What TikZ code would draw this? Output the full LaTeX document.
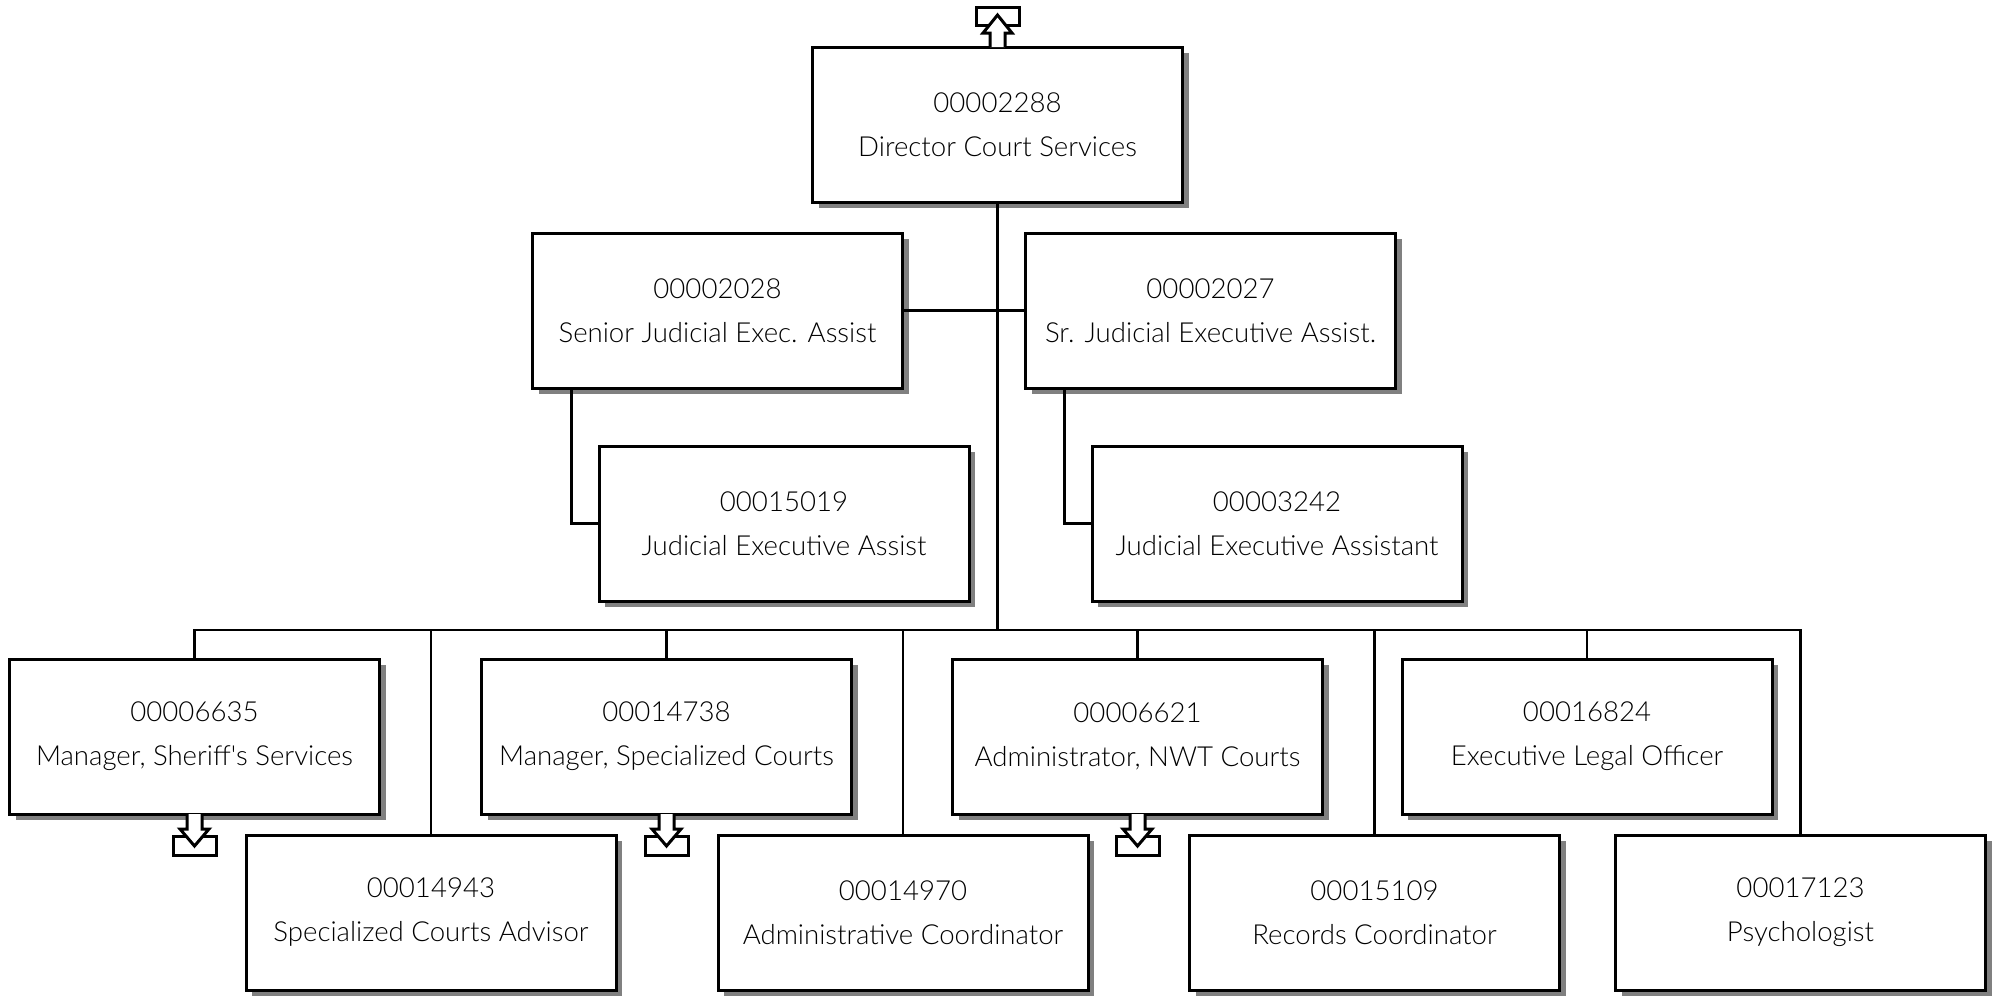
\documentclass[tikz,border=0pt]{standalone}
\usepackage{fontspec}
\setmainfont{Lato Light}
\usetikzlibrary{shadows}
\definecolor{shadowgray}{RGB}{128,128,128}
\begin{document}
\begin{tikzpicture}[x=0.5pt,y=-0.5pt,
  posbox/.style={draw, line width=1.5pt, fill=white, minimum width=185pt, minimum height=77.5pt,
    inner sep=0pt, outer sep=0pt, align=center, font=\fontsize{13.8}{22}\selectfont,
    general shadow={fill=shadowgray, shadow xshift=3.2pt, shadow yshift=-3.2pt}},
  link/.style={line width=1.1pt},
  flag/.style={draw, line width=1.5pt, fill=white, line join=miter}]
\useasboundingbox (0,0) rectangle (1995,996);
% nodes
\node[posbox] (p2288) at (997.5,124.5) {00002288\\Director Court Services};
\node[posbox] (p2028) at (717.5,310.5) {00002028\\Senior Judicial Exec. Assist};
\node[posbox] (p2027) at (1210.5,310.5) {00002027\\Sr. Judicial Executive Assist.};
\node[posbox] (p15019) at (784,523.5) {00015019\\Judicial Executive Assist};
\node[posbox] (p3242) at (1277,523.5) {00003242\\Judicial Executive Assistant};
\node[posbox] (p6635) at (194.5,736.5) {00006635\\Manager, Sheriff\textquotesingle s Services};
\node[posbox] (p14738) at (666.5,736.5) {00014738\\Manager, Specialized Courts};
\node[posbox] (p6621) at (1137.5,736.5) {00006621\\Administrator, NWT Courts};
\node[posbox] (p16824) at (1587,736.5) {00016824\\Executive Legal Officer};
\node[posbox] (p14943) at (431,912.5) {00014943\\Specialized Courts Advisor};
\node[posbox] (p14970) at (903,912.5) {00014970\\Administrative Coordinator};
\node[posbox] (p15109) at (1374.5,912.5) {00015109\\Records Coordinator};
\node[posbox] (p17123) at (1800.5,912.5) {00017123\\Psychologist};
% connectors
\coordinate (bus) at (997.5,630);
\draw[link] (p2288.south) -- (bus);
\draw[link] (p2028.east) -- (p2027.west);
\draw[link] ([xshift=19.5pt]p2028.south west) |- (p15019.west);
\draw[link] ([xshift=19.5pt]p2027.south west) |- (p3242.west);
\foreach \n in {p6635,p14738,p6621,p16824,p14943,p14970,p15109,p17123}
  \draw[link] (\n.north) |- (bus);
% up flag
\draw[flag] ([shift={(-21.5,-40)}]p2288.north) rectangle ([shift={(21.5,-22)}]p2288.north);
\filldraw[flag] ([shift={(-7.5,0)}]p2288.north) -- ++(0,-14) -- ++(-7,0) -- ++(14.5,-18) -- ++(14.5,18) -- ++(-7,0) -- ++(0,14);
% down flags
\foreach \n in {p6635,p14738,p6621}{
  \draw[flag] ([shift={(-21.5,22.5)}]\n.south) rectangle ([shift={(21.5,41)}]\n.south);
  \filldraw[flag] ([shift={(-7.5,0)}]\n.south) -- ++(0,15) -- ++(-7,0) -- ++(14.5,17) -- ++(14.5,-17) -- ++(-7,0) -- ++(0,-15);
}
\end{tikzpicture}
\end{document}
